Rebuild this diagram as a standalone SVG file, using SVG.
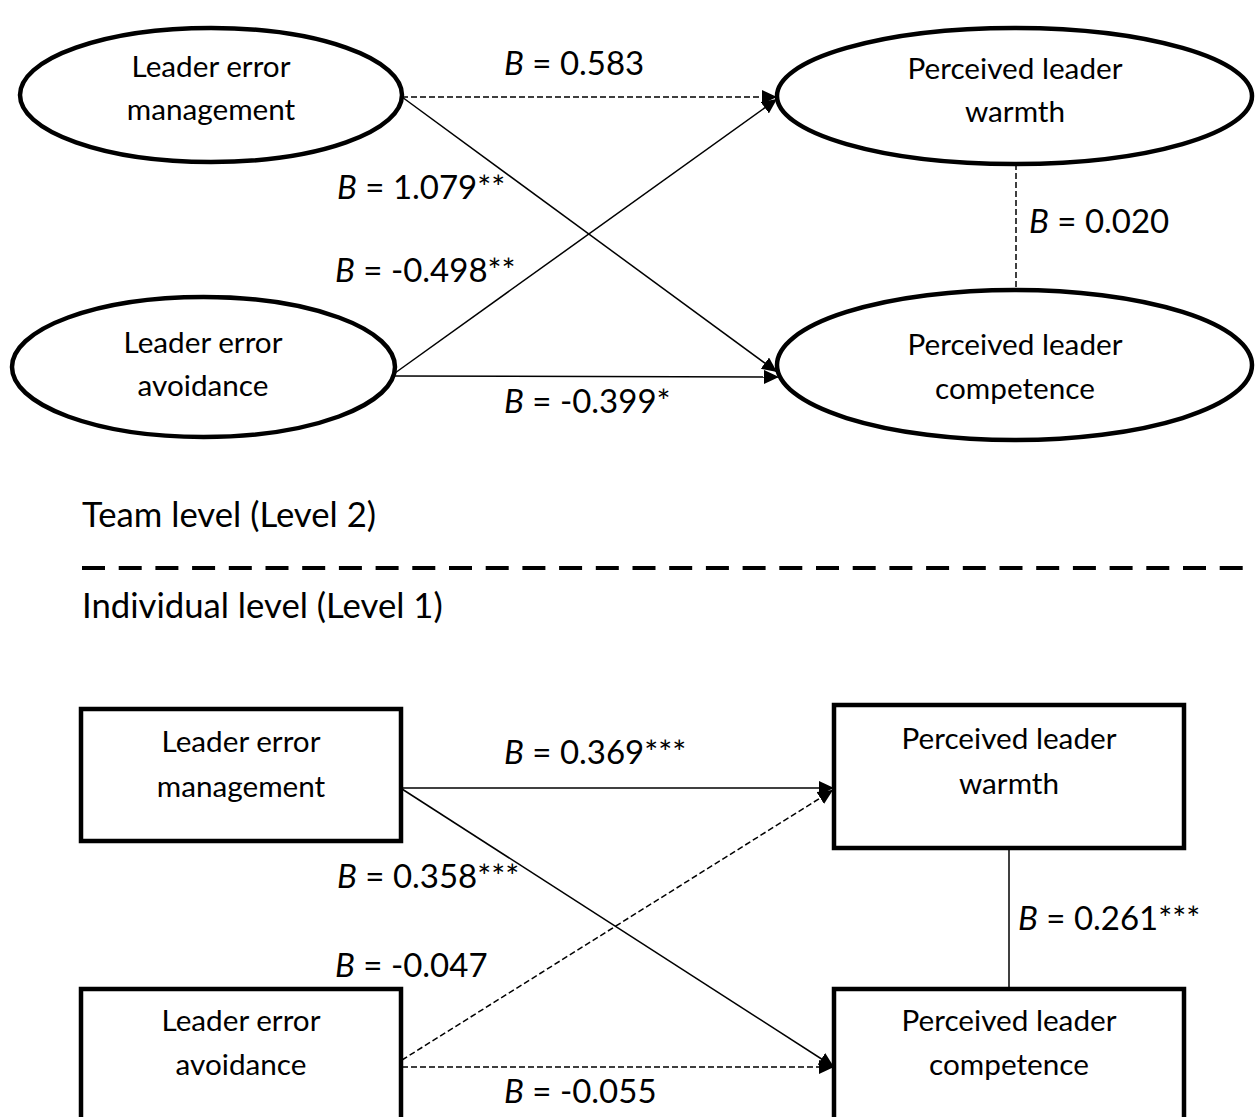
<svg xmlns="http://www.w3.org/2000/svg" width="1256" height="1117" viewBox="0 0 1256 1117">
<style>
  .node { fill: #ffffff; stroke: #000000; stroke-width: 4.5; }
  .nt { font-family: Lato, "Liberation Sans", sans-serif; font-size: 29.7px; fill: #000000; text-anchor: middle; }
  .lb { font-family: Lato, "Liberation Sans", sans-serif; font-size: 33px; fill: #000000; }
  .lv { font-family: Lato, "Liberation Sans", sans-serif; font-size: 34.7px; fill: #000000; }
  .b { font-style: italic; }
  .solid { fill: none; stroke: #000000; stroke-width: 1.5; }
  .dash { fill: none; stroke: #000000; stroke-width: 1.5; stroke-dasharray: 6 3; }
  .sep { fill: none; stroke: #000000; stroke-width: 4; stroke-dasharray: 23 13.7; }
</style>
<defs>
  <marker id="arr" markerUnits="userSpaceOnUse" markerWidth="16" markerHeight="14" refX="15" refY="7" orient="auto">
    <path d="M0,0 L15,7 L0,14 z" fill="#000000"/>
  </marker>
</defs>
<rect x="0" y="0" width="1256" height="1117" fill="#ffffff"/>

<g id="team-lem">
  <ellipse class="node" cx="211" cy="95" rx="191" ry="67"/>
  <text class="nt" x="211" y="77">Leader error</text>
  <text class="nt" x="211" y="120">management</text>
</g>
<g id="team-warmth">
  <ellipse class="node" cx="1014.5" cy="96" rx="237.5" ry="68"/>
  <text class="nt" x="1015" y="79">Perceived leader</text>
  <text class="nt" x="1015" y="122">warmth</text>
</g>
<g id="team-lea">
  <ellipse class="node" cx="203.5" cy="367" rx="191.5" ry="70"/>
  <text class="nt" x="203" y="353">Leader error</text>
  <text class="nt" x="203" y="396">avoidance</text>
</g>
<g id="team-competence">
  <ellipse class="node" cx="1014.5" cy="365" rx="237.5" ry="75"/>
  <text class="nt" x="1015" y="355">Perceived leader</text>
  <text class="nt" x="1015" y="399">competence</text>
</g>

<g id="ind-lem">
  <rect class="node" x="81" y="709" width="320" height="132"/>
  <text class="nt" x="241" y="752">Leader error</text>
  <text class="nt" x="241" y="797">management</text>
</g>
<g id="ind-warmth">
  <rect class="node" x="834" y="705" width="350" height="143"/>
  <text class="nt" x="1009" y="749">Perceived leader</text>
  <text class="nt" x="1009" y="794">warmth</text>
</g>
<g id="ind-lea">
  <rect class="node" x="81" y="989" width="320" height="140"/>
  <text class="nt" x="241" y="1031">Leader error</text>
  <text class="nt" x="241" y="1075">avoidance</text>
</g>
<g id="ind-competence">
  <rect class="node" x="834" y="989" width="350" height="140"/>
  <text class="nt" x="1009" y="1031">Perceived leader</text>
  <text class="nt" x="1009" y="1075">competence</text>
</g>

<g id="connectors">
  <line class="dash" x1="402" y1="97" x2="777" y2="97" marker-end="url(#arr)"/>
  <line class="solid" x1="402" y1="97" x2="777" y2="372" marker-end="url(#arr)"/>
  <line class="solid" x1="395" y1="373" x2="777" y2="99" marker-end="url(#arr)"/>
  <line class="solid" x1="395" y1="376" x2="779" y2="377" marker-end="url(#arr)"/>
  <line class="dash" x1="1016" y1="164" x2="1016" y2="290"/>

  <line class="solid" x1="402" y1="788" x2="834" y2="788" marker-end="url(#arr)"/>
  <line class="solid" x1="402" y1="789" x2="834" y2="1067" marker-end="url(#arr)"/>
  <line class="dash" x1="402" y1="1060" x2="833" y2="790" marker-end="url(#arr)"/>
  <line class="dash" x1="402" y1="1067" x2="834" y2="1067" marker-end="url(#arr)"/>
  <line class="solid" x1="1009" y1="848" x2="1009" y2="989"/>
</g>

<g id="labels">
  <text class="lb" x="504" y="75"><tspan class="b">B</tspan> = 0.583</text>
  <text class="lb" x="337" y="199"><tspan class="b">B</tspan> = 1.079**</text>
  <text class="lb" x="335" y="282"><tspan class="b">B</tspan> = -0.498**</text>
  <text class="lb" x="504" y="413"><tspan class="b">B</tspan> = -0.399*</text>
  <text class="lb" x="1029" y="233"><tspan class="b">B</tspan> = 0.020</text>
  <text class="lb" x="504" y="764"><tspan class="b">B</tspan> = 0.369***</text>
  <text class="lb" x="337" y="888"><tspan class="b">B</tspan> = 0.358***</text>
  <text class="lb" x="1018" y="930"><tspan class="b">B</tspan> = 0.261***</text>
  <text class="lb" x="335" y="977"><tspan class="b">B</tspan> = -0.047</text>
  <text class="lb" x="504" y="1103"><tspan class="b">B</tspan> = -0.055</text>
</g>

<g id="levels">
  <text class="lv" x="82" y="527">Team level (Level 2)</text>
  <line class="sep" x1="82" y1="568" x2="1256" y2="568"/>
  <text class="lv" x="82" y="618">Individual level (Level 1)</text>
</g>
</svg>
